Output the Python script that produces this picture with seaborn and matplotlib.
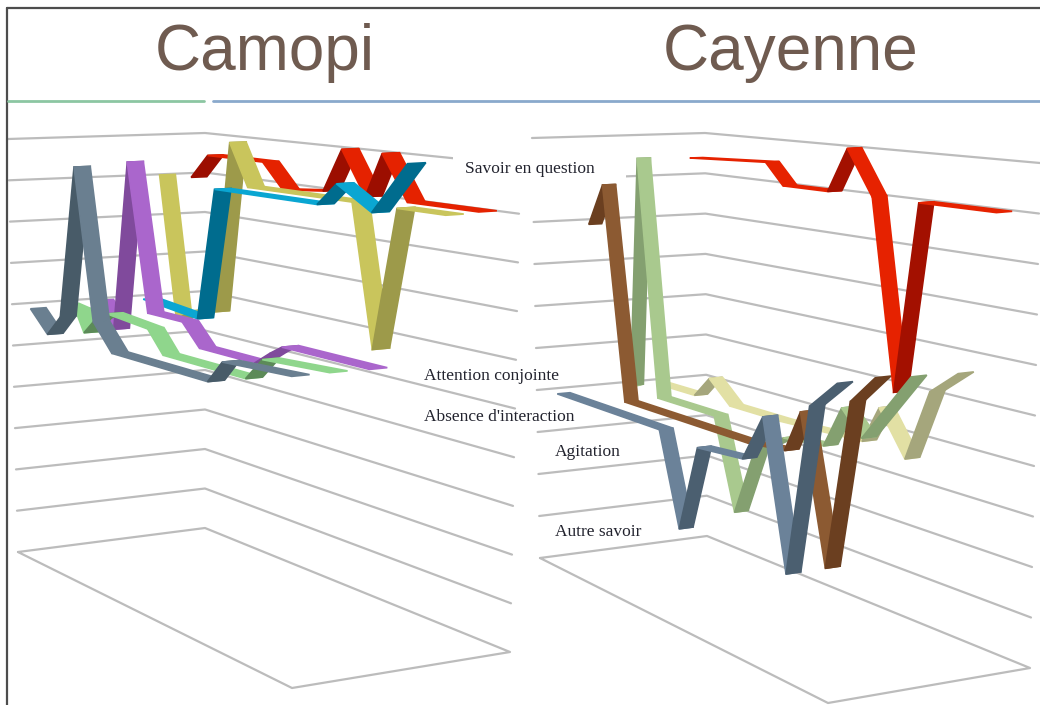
import numpy as np
import pandas as pd
import seaborn as sns
import matplotlib
matplotlib.use('Agg')
import matplotlib.pyplot as plt
from matplotlib.patches import Rectangle

# step along the session axis / value read for each ribbon
camopi_red_x = [0.1, 1.0, 4.0, 5.1, 7.3, 8.3, 9.6, 10.5, 11.9, 15.8]
camopi_red_y = [8.9, 9.5, 9.5, 8.9, 9.0, 10.0, 9.0, 10.0, 9.0, 9.0]
camopi_yellow_x = [0.2, 1.1, 2.0, 3.2, 4.1, 5.1, 10.9, 12.1, 13.4, 16.1]
camopi_yellow_y = [9.0, 5.5, 5.8, 5.9, 10.0, 9.0, 9.0, 5.9, 9.0, 9.0]
camopi_blue_x = [1.1, 4.2, 5.2, 11.0, 12.1, 14.1, 16.1]
camopi_blue_y = [6.05, 5.9, 9.0, 9.0, 9.5, 9.0, 10.1]
camopi_purple_x = [0.4, 1.3, 2.2, 3.3, 5.3, 6.3, 9.5, 10.4, 11.1, 16.2]
camopi_purple_y = [6.0, 5.4, 9.5, 6.0, 6.0, 5.5, 5.5, 5.8, 6.0, 6.0]
camopi_green_x = [0.3, 1.0, 1.5, 2.2, 2.9, 5.3, 6.2, 11.1, 12.1, 16.1]
camopi_green_y = [5.95, 5.9, 5.4, 5.8, 6.0, 5.9, 5.4, 5.4, 5.9, 6.0]
camopi_slate_x = [0.3, 1.3, 2.1, 3.1, 4.1, 5.2, 11.0, 11.9, 16.1]
camopi_slate_y = [5.9, 5.4, 5.9, 9.5, 6.0, 5.4, 5.4, 5.9, 6.0]

cayenne_red_x = [0.1, 4.0, 4.9, 7.2, 8.2, 9.5, 10.7, 11.9, 15.9]
cayenne_red_y = [9.4, 9.5, 9.0, 9.0, 10.0, 9.0, 4.9, 9.0, 9.0]
cayenne_khaki_x = [0.1, 2.1, 2.9, 4.0, 6.7, 11.1, 12.0, 13.4, 14.7, 16.2]
cayenne_khaki_y = [3.9, 3.9, 4.4, 3.9, 3.9, 4.0, 4.8, 3.9, 5.4, 5.9]
cayenne_green_x = [0.1, 0.5, 1.0, 2.0, 5.1, 6.2, 7.3, 8.9, 11.1, 12.1, 13.2, 15.9]
cayenne_green_y = [3.9, 4.0, 9.5, 3.9, 3.9, 1.9, 3.4, 3.9, 4.0, 4.9, 4.4, 5.9]
cayenne_brown_x = [0.2, 1.0, 2.1, 9.0, 11.1, 12.0, 13.4, 14.8, 16.2]
cayenne_brown_y = [7.9, 8.9, 3.9, 3.9, 4.0, 4.9, 1.9, 5.4, 6.0]
cayenne_slate_x = [0.2, 6.1, 7.2, 8.3, 10.9, 12.1, 13.4, 14.8, 16.4]
cayenne_slate_y = [3.9, 3.9, 1.9, 3.8, 3.9, 4.9, 1.9, 5.4, 6.0]

n_steps = 17
grid_levels = list(range(1, 11))

# box corners on screen: (step end, depth end, value end)
camopi_box = {(0, 0, 0): (18, 552), (1, 0, 0): (292, 688), (0, 1, 0): (205, 528), (1, 1, 0): (510, 652),
              (0, 0, 1): (8, 139), (1, 0, 1): (290, 178), (0, 1, 1): (205, 133), (1, 1, 1): (520, 165)}
cayenne_box = {(0, 0, 0): (540, 558), (1, 0, 0): (828, 703), (0, 1, 0): (707, 536), (1, 1, 0): (1030, 668),
               (0, 0, 1): (532, 138), (1, 0, 1): (826, 179), (0, 1, 1): (705, 133), (1, 1, 1): (1040, 163)}

# back to front: depth, width, xs, ys, top colour, underside colour
camopi_series = [
    (0.92, 0.08, camopi_red_x, camopi_red_y, '#e52200', '#9c0e00'),
    (0.75, 0.08, camopi_yellow_x, camopi_yellow_y, '#c9c55c', '#9d9a4a'),
    (0.58, 0.08, camopi_blue_x, camopi_blue_y, '#0aa6d2', '#006c8e'),
    (0.41, 0.08, camopi_purple_x, camopi_purple_y, '#aa66cc', '#804a9c'),
    (0.24, 0.08, camopi_green_x, camopi_green_y, '#8fd68c', '#5c8a58'),
    (0.07, 0.08, camopi_slate_x, camopi_slate_y, '#6a7f90', '#485b68'),
]
cayenne_series = [
    (0.90, 0.075, cayenne_red_x, cayenne_red_y, '#e62200', '#a31000'),
    (0.70, 0.075, cayenne_khaki_x, cayenne_khaki_y, '#e2e0a4', '#a5a67c'),
    (0.50, 0.075, cayenne_green_x, cayenne_green_y, '#a9c98e', '#84a070'),
    (0.30, 0.075, cayenne_brown_x, cayenne_brown_y, '#8c5a32', '#6b3f20'),
    (0.10, 0.075, cayenne_slate_x, cayenne_slate_y, '#6b8299', '#4b5f70'),
]


def project(box, step, depth, value):
    t = step / n_steps
    z = value / 10
    pos = np.zeros(2)
    for (i, j, k), corner in box.items():
        weight = (t if i else 1 - t) * (depth if j else 1 - depth) * (z if k else 1 - z)
        pos += weight * np.array(corner, dtype=float)
    return pos


def grid_frame(box, name):
    rows = []
    for level in [0] + grid_levels:
        path = [(0, 0), (0, 1), (n_steps, 1)]
        if level == 0:
            path = [(0, 0), (0, 1), (n_steps, 1), (n_steps, 0), (0, 0)]
        for order, (step, depth) in enumerate(path):
            sx, sy = project(box, step, depth, level)
            rows.append({'line': f'{name}{level}', 'order': order, 'sx': sx, 'sy': sy})
    return pd.DataFrame(rows)


def draw_ribbon(ax, box, depth, width, xs, ys, light, dark):
    for i in range(len(xs) - 1):
        corners = [project(box, xs[i], depth, ys[i]),
                   project(box, xs[i + 1], depth, ys[i + 1]),
                   project(box, xs[i + 1], depth + width, ys[i + 1]),
                   project(box, xs[i], depth + width, ys[i])]
        # a rising stretch shows its underside
        colour = dark if ys[i + 1] - ys[i] > 0.15 else light
        ax.fill(*zip(*corners), color=colour, lw=1.2, zorder=3)


sns.set_theme(style='white')
fig = plt.figure(figsize=(10.4, 7.05), dpi=100, facecolor='white')
ax = fig.add_axes([0, 0, 1, 1])
ax.set_xlim(0, 1040)
ax.set_ylim(705, 0)
ax.axis('off')

grid = pd.concat([grid_frame(camopi_box, 'a'), grid_frame(cayenne_box, 'b')])
sns.lineplot(data=grid, x='sx', y='sy', units='line', estimator=None, sort=False,
             color='#bcbcbc', lw=1.6, ax=ax, zorder=2)
ax.set_xlim(0, 1040)
ax.set_ylim(705, 0)
ax.axis('off')

# the pasted label sits on a white box that hides part of the grid
ax.add_patch(Rectangle((453, 150), 173, 35, facecolor='white', edgecolor='none', zorder=2.5))

for depth, width, xs, ys, light, dark in camopi_series:
    draw_ribbon(ax, camopi_box, depth, width, xs, ys, light, dark)
for depth, width, xs, ys, light, dark in cayenne_series:
    draw_ribbon(ax, cayenne_box, depth, width, xs, ys, light, dark)

ax.plot([7, 7], [8, 705], color='#4d4d4d', lw=1.6, zorder=5)
ax.plot([7, 1040], [8, 8], color='#4d4d4d', lw=1.6, zorder=5)
ax.plot([8, 204], [101, 101], color='#8cc6a2', lw=2, zorder=5)
ax.plot([213, 1040], [101, 101], color='#8aa9cc', lw=2, zorder=5)

for name, x in [('Camopi', 265), ('Cayenne', 791)]:
    ax.text(x, 70, name, color='#6f5b50', fontsize=46, ha='center', va='baseline',
            family='Liberation Sans', zorder=6)

labels = [('Savoir en question', 465, 169), ('Attention conjointe', 424, 376),
          ("Absence d'interaction", 424, 417), ('Agitation', 555, 452), ('Autre savoir', 555, 532)]
for text, x, y in labels:
    ax.text(x, y, text, color='#22232e', fontsize=12.5, ha='left', va='center',
            family='Liberation Serif', zorder=6)

fig.savefig('out.png', dpi=100)
